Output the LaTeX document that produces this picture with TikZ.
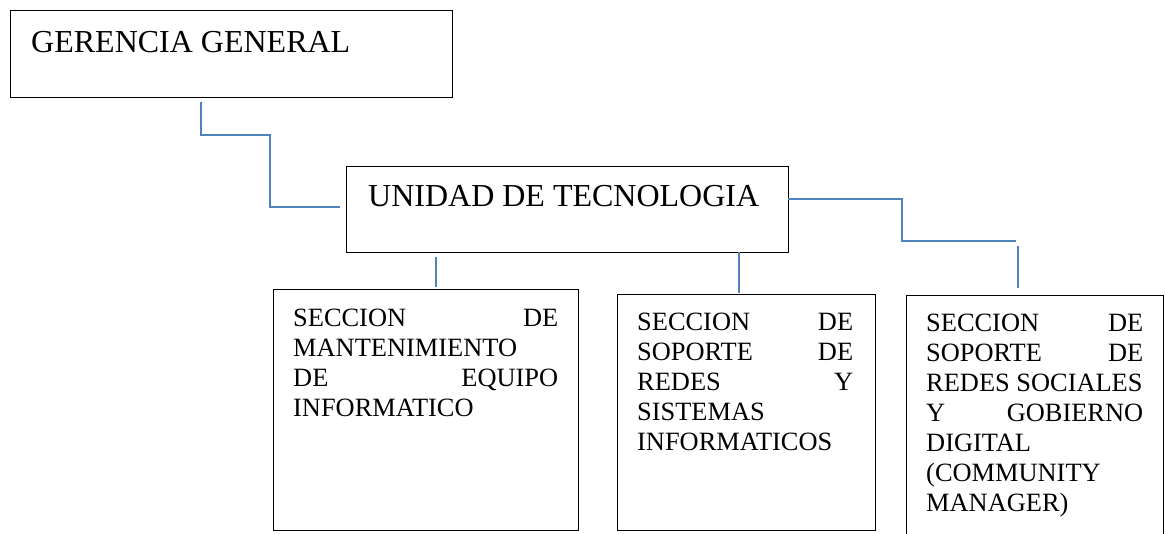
\documentclass[tikz,border=0pt]{standalone}
\usepackage{fontspec}
\setmainfont{Liberation Serif}
\definecolor{connblue}{RGB}{79,129,189}
\begin{document}
\begin{tikzpicture}[x=1pt,y=-1pt,
  box/.style={draw=black, line width=1.2pt, anchor=north west, inner sep=0pt},
  conn/.style={draw=connblue, line width=2pt},
  big/.style={anchor=base west, inner sep=0pt, font=\fontsize{32}{36}\selectfont},
  small/.style={anchor=base west, inner sep=0pt, font=\fontsize{26.4}{30}\selectfont}]
\clip (0,0) rectangle (1165,533);
\fill[white] (0,0) rectangle (1165,533);
% boxes
\node[box, minimum width=442pt, minimum height=87pt] (gg) at (10,10) {};
\node[box, minimum width=442pt, minimum height=86pt] (ut) at (346,166) {};
\node[box, minimum width=305pt, minimum height=241pt] (b1) at (273,289) {};
\node[box, minimum width=258pt, minimum height=236pt] (b2) at (617,294) {};
\node[box, minimum width=257pt, minimum height=265pt] (b3) at (906,295) {};
% texts
\node[big] (ggt) at (31,52) {GERENCIA GENERAL};
\node[big] (utt) at (368,206) {UNIDAD DE TECNOLOGIA};
\node[small] (t1) at (293,326) {\parbox[t]{265pt}{SECCION\hfill DE\\MANTENIMIENTO\\DE\hfill EQUIPO\\INFORMATICO}};
\node[small] (t2) at (637,330) {\parbox[t]{216pt}{SECCION\hfill DE\\SOPORTE\hfill DE\\REDES\hfill Y\\SISTEMAS\\INFORMATICOS}};
\node[small] (t3) at (926,331) {\parbox[t]{217pt}{SECCION\hfill DE\\SOPORTE\hfill DE\\REDES SOCIALES\\Y\hfill GOBIERNO\\DIGITAL\\(COMMUNITY\\MANAGER)}};
% connector end points
\coordinate (c1s) at (201,102);
\coordinate (c1m) at (270,135);
\coordinate (c1e) at (340,207);
\coordinate (c2s) at (788,199);
\coordinate (c2m) at (902,241);
\coordinate (c2e) at (1016,241);
\coordinate (c3s) at (1018,246);
\coordinate (c3e) at (1018,288);
\coordinate (c4s) at (436,257);
\coordinate (c4e) at (436,287);
\coordinate (c5s) at (739,252);
\coordinate (c5e) at (739,293);
% connectors
\draw[conn] (c1s) |- (c1m) |- (c1e);
\draw[conn] (c2s) -| (c2m) -- (c2e);
\draw[conn] (c3s) -- (c3e);
\draw[conn] (c4s) -- (c4e);
\draw[conn] (c5s) -- (c5e);
\end{tikzpicture}
\end{document}
